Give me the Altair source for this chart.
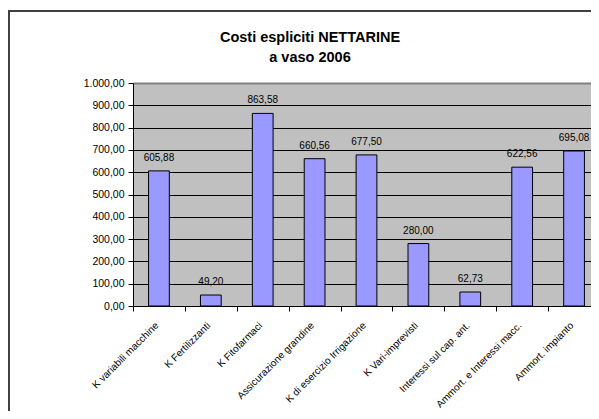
import altair as alt
import pandas as pd

categories = [
    "K variabili macchine",
    "K  Fertilizzanti",
    "K Fitofarmaci",
    "Assicurazione grandine",
    "K di esercizio Irrigazione",
    "K Vari-imprevisti",
    "Interessi sul cap. ant.",
    "Ammort. e Interessi macc.",
    "Ammort. impianto",
]
values = [605.88, 49.20, 863.58, 660.56, 677.50, 280.00, 62.73, 622.56, 695.08]
y_ticks = [0, 100, 200, 300, 400, 500, 600, 700, 800, 900, 1000]
title_lines = ["Costi espliciti NETTARINE", "a vaso  2006"]


def it_fmt(v):
    s = f"{v:,.2f}"
    return s.replace(",", ";").replace(".", ",").replace(";", ".")


df = pd.DataFrame({
    "cat": categories,
    "val": values,
    "lab": [it_fmt(v) for v in values],
})

FONT = "Liberation Sans, Arial, sans-serif"
W, H = 458, 223

xscale = alt.Scale(domain=categories, range=[0, 467], paddingInner=0, paddingOuter=0)
yscale = alt.Scale(domain=[0, 1000], nice=False)

xaxis = alt.Axis(
    title=None, labelAngle=-45, labelFont=FONT, labelFontSize=10, labelColor="black",
    tickBand="extent", tickSize=5, tickColor="black", domainColor="black",
    labelPadding=9, labelOffset=-6, labelBaseline="top", labelAlign="right",
    grid=False, labelLimit=200, labelOverlap=False,
)
yaxis = alt.Axis(
    title=None, values=y_ticks, labelOverlap=False,
    labelExpr="replace(replace(replace(format(datum.value, ',.2f'), ',', ';'), '.', ','), ';', '.')",
    labelFont=FONT, labelFontSize=10.5, labelColor="black", labelPadding=4,
    tickSize=5, tickColor="black", domainColor="black",
    grid=True,
    gridColor={"condition": {"test": "datum.value === 1000", "value": "#808080"}, "value": "#000000"},
    gridWidth={"condition": {"test": "datum.value === 1000", "value": 2}, "value": 1},
)

base = alt.Chart(df)

bars = base.mark_bar(color="#9999FF", stroke="black", strokeWidth=1,
                     width=alt.RelativeBandSize(0.4)).encode(
    x=alt.X("cat:N", scale=xscale, axis=xaxis, sort=categories),
    y=alt.Y("val:Q", scale=yscale, axis=yaxis),
)

labels = base.mark_text(font=FONT, fontSize=10, color="black", baseline="alphabetic", dy=-10).encode(
    x=alt.X("cat:N", scale=xscale, sort=categories, axis=xaxis),
    y=alt.Y("val:Q", scale=yscale, axis=yaxis),
    text="lab:N",
)

one = alt.Data(values=[{"a": 1}])
frame_top = alt.Chart(one).mark_rule(color="#404040", strokeWidth=2).encode(
    x=alt.value(-125), x2=alt.value(W), y=alt.value(-72)
)
frame_left = alt.Chart(one).mark_rule(color="#404040", strokeWidth=2).encode(
    x=alt.value(-124), y=alt.value(-72), y2=alt.value(H + 105)
)
t1 = alt.Chart(one).mark_text(text=title_lines[0], font=FONT, fontSize=14.5, fontWeight="bold",
                              color="black", baseline="middle", align="center").encode(
    x=alt.value(177), y=alt.value(-45)
)
t2 = alt.Chart(one).mark_text(text=title_lines[1], font=FONT, fontSize=14.5, fontWeight="bold",
                              color="black", baseline="middle", align="center").encode(
    x=alt.value(177), y=alt.value(-25)
)

chart = alt.layer(bars, labels, frame_top, frame_left, t1, t2).properties(
    width=W, height=H,
    autosize=alt.AutoSizeParams(type="none"),
    padding={"left": 125, "top": 75, "right": 0, "bottom": 105},
    background="white",
).configure_view(stroke=None, fill="#C0C0C0")

chart.save("out.html", embed_options={"renderer": "svg", "actions": False})
